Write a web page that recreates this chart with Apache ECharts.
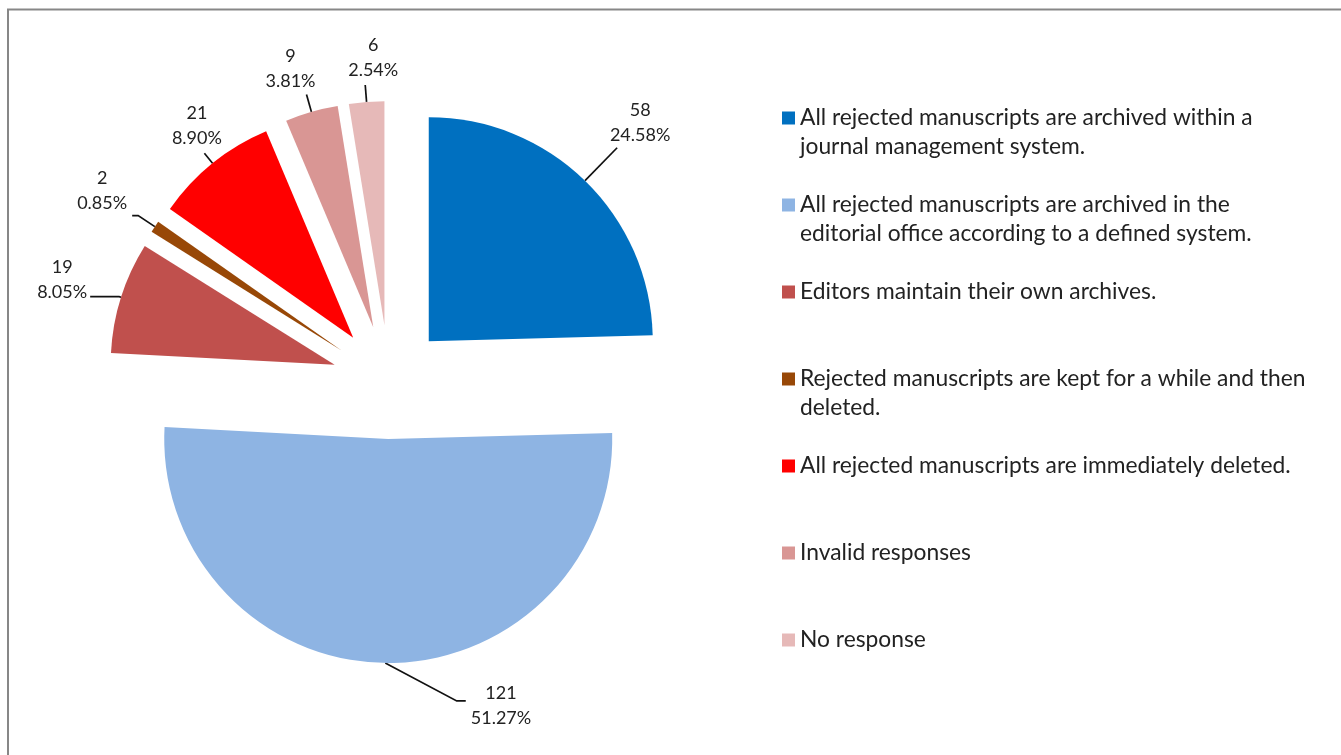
<!DOCTYPE html>
<html>
<head>
<meta charset="utf-8">
<script src="https://cdn.jsdelivr.net/npm/echarts@6/dist/echarts.min.js"></script>
<style>
  html, body { margin: 0; padding: 0; background: #ffffff; }
  #chart { width: 1341px; height: 755px; }
</style>
</head>
<body>
<div id="chart"></div>
<script>
// ---- data ----
const categories = [
  'All rejected manuscripts are archived within a journal management system.',
  'All rejected manuscripts are archived in the editorial office according to a defined system.',
  'Editors maintain their own archives.',
  'Rejected manuscripts are kept for a while and then deleted.',
  'All rejected manuscripts are immediately deleted.',
  'Invalid responses',
  'No response'
];
const counts = [58, 121, 19, 2, 21, 9, 6];

// ---- styles ----
const colors = ['#0070C0', '#8EB4E3', '#C0504D', '#984807', '#FF0000', '#D99694', '#E6B9B8'];
// number of words on the first legend line (0 = no wrap)
const legendFirstLineWords = [7, 7, 0, 9, 0, 0, 0];
const labelLineStyles = [
  { length: 46, length2: 0 },
  { length: 38, length2: -81, minTurnAngle: 152 },
  { length: 2, length2: 29 },
  { length: 20, length2: 6 },
  { length: 13, length2: 0 },
  { length: 18, length2: 0 },
  { length: 17, length2: 0 }
];
const labelBoxStyles = [
  { padding: [0, 0, 0, 46], distanceToLabelLine: 0 },
  { padding: [10, 0, 0, 0], distanceToLabelLine: -5 },
  { padding: [0, 0, 34, 0], distanceToLabelLine: 3 },
  { padding: [0, 0, 50, 0], distanceToLabelLine: 5 },
  { padding: [0, 15, 3, 0], distanceToLabelLine: 0 },
  { padding: [0, 32, 1, 0], distanceToLabelLine: 0 },
  { padding: [0, 0, 2, 16], distanceToLabelLine: 0 }
];

const FONT = 'Lato, "Open Sans", sans-serif';
const TEXT = '#222222';

const chart = echarts.init(document.getElementById('chart'), null, { renderer: 'canvas' });

const option = {
  animation: false,
  backgroundColor: '#ffffff',
  graphic: [{
    type: 'rect',
    silent: true,
    shape: { x: 8, y: 9.5, width: 1400, height: 800 },
    style: { fill: 'none', stroke: '#878787', lineWidth: 2 }
  }],
  legend: {
    orient: 'vertical',
    left: 782,
    top: 74.5,
    padding: 0,
    itemGap: 0,
    itemWidth: 13,
    itemHeight: 13,
    icon: 'rect',
    selectedMode: false,
    formatter: function (name) {
      const n = legendFirstLineWords[categories.indexOf(name)];
      if (!n) return name;
      const words = name.split(' ');
      return '\n' + words.slice(0, n).join(' ') + '\n' + words.slice(n).join(' ');
    },
    textStyle: {
      fontFamily: FONT,
      fontSize: 22.8,
      lineHeight: 29,
      color: TEXT,
      backgroundColor: 'rgba(0,0,0,0)',
      padding: [29, 0, 29, 0]
    },
    data: categories.map((n, i) => ({
      name: n,
      textStyle: { padding: legendFirstLineWords[i] ? 0 : [29, 0, 29, 0] }
    }))
  },
  series: [{
    type: 'pie',
    center: [389, 382],
    radius: 224,
    startAngle: 90,
    clockwise: true,
    selectedMode: 'multiple',
    selectedOffset: 57,
    avoidLabelOverlap: false,
    itemStyle: { borderWidth: 0 },
    select: { itemStyle: { borderWidth: 0 } },
    emphasis: { disabled: true },
    label: {
      show: true,
      position: 'outside',
      distanceToLabelLine: 0,
      fontFamily: FONT,
      fontSize: 18,
      lineHeight: 25,
      color: TEXT,
      formatter: p => '{v|' + p.value + '}\n{v|' + p.percent.toFixed(2) + '%}',
      rich: {
        v: { align: 'center', fontFamily: FONT, fontSize: 18, lineHeight: 25, color: TEXT }
      }
    },
    labelLine: {
      show: true,
      minTurnAngle: 45,
      lineStyle: { color: '#111111', width: 1.7 }
    },
    labelLayout: function (p) {
      const pts = p.labelLinePoints;
      if (!pts || pts.length < 3) return {};
      const ax = pts[1][0] - pts[0][0];
      const ay = pts[1][1] - pts[0][1];
      if (ay < 0 && Math.abs(ay) > Math.abs(ax)) {
        return { align: 'center', verticalAlign: 'bottom' };
      }
      if (pts[2][0] === pts[1][0]) return {};
      return { align: pts[2][0] > pts[1][0] ? 'left' : 'right' };
    },
    data: counts.map((v, i) => ({
      name: categories[i],
      value: v,
      selected: true,
      itemStyle: { color: colors[i] },
      labelLine: labelLineStyles[i],
      label: labelBoxStyles[i]
    }))
  }]
};

chart.setOption(option);
</script>
</body>
</html>
